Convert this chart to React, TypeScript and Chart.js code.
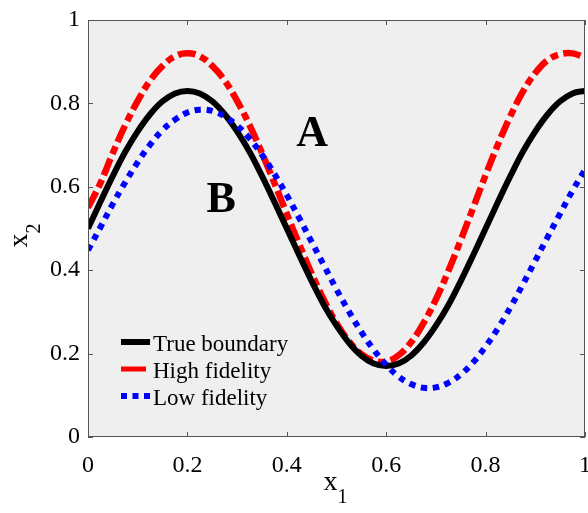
import React, { useEffect, useRef } from "react";
import { Chart, registerables } from "chart.js";

Chart.register(...registerables);

// ---- data ----
const xValues = [
  0, 0.025, 0.05, 0.075, 0.1, 0.125, 0.15, 0.175, 0.2, 0.225, 0.25, 0.275, 0.3, 0.325, 0.35, 0.375,
  0.4, 0.425, 0.45, 0.475, 0.5, 0.525, 0.55, 0.575, 0.6, 0.625, 0.65, 0.675, 0.7, 0.725, 0.75, 0.775,
  0.8, 0.825, 0.85, 0.875, 0.9, 0.925, 0.95, 0.975, 1,
];
const trueBoundary = [
  0.5, 0.564, 0.626, 0.684, 0.733, 0.774, 0.805, 0.824, 0.83, 0.824, 0.805, 0.774, 0.733, 0.684, 0.626, 0.564,
  0.5, 0.436, 0.374, 0.316, 0.267, 0.226, 0.195, 0.176, 0.17, 0.176, 0.195, 0.226, 0.267, 0.316, 0.374, 0.436,
  0.5, 0.564, 0.626, 0.684, 0.733, 0.774, 0.805, 0.824, 0.83,
];
const highFidelity = [
  0.55, 0.609, 0.681, 0.748, 0.806, 0.855, 0.89, 0.913, 0.92, 0.913, 0.89, 0.855, 0.806, 0.748, 0.681, 0.609,
  0.535, 0.462, 0.392, 0.328, 0.273, 0.23, 0.199, 0.183, 0.181, 0.196, 0.227, 0.273, 0.33, 0.398, 0.472, 0.55,
  0.628, 0.702, 0.77, 0.828, 0.873, 0.904, 0.918, 0.92, 0.91,
];
const lowFidelity = [
  0.448, 0.503, 0.559, 0.611, 0.659, 0.701, 0.736, 0.761, 0.778, 0.785, 0.782, 0.769, 0.747, 0.716, 0.677, 0.631,
  0.58, 0.525, 0.468, 0.411, 0.354, 0.301, 0.252, 0.209, 0.173, 0.145, 0.127, 0.118, 0.119, 0.13, 0.15, 0.179,
  0.217, 0.261, 0.311, 0.366, 0.423, 0.48, 0.536, 0.591, 0.641,
];
const seriesLabels = ["True boundary", "High fidelity", "Low fidelity"];
const seriesColors = ["#000000", "#ff0000", "#0000ff"];
const xTicks = [0, 0.2, 0.4, 0.6, 0.8, 1];
const yTicks = [0, 0.2, 0.4, 0.6, 0.8, 1];
const regionText = ["A", "B"];
const regionX = [0.451, 0.268];
const regionY = [0.73, 0.572];

const SERIF = "'Liberation Serif', 'Times New Roman', serif";

const decorPlugin = {
  id: "decor",
  beforeDraw(chart: any) {
    const { ctx, chartArea: a } = chart;
    ctx.save();
    ctx.fillStyle = "#efefef";
    ctx.fillRect(a.left, a.top, a.right - a.left, a.bottom - a.top);
    ctx.restore();
  },
  afterDraw(chart: any) {
    const { ctx, chartArea: a, scales } = chart;
    const xs = scales.x;
    const ys = scales.y;
    ctx.save();
    // box
    ctx.strokeStyle = "#555555";
    ctx.lineWidth = 1;
    ctx.setLineDash([]);
    ctx.strokeRect(a.left + 0.5, a.top + 0.5, a.right - a.left - 1, a.bottom - a.top - 1);
    // inner ticks
    const tl = 5;
    ctx.beginPath();
    xTicks.forEach((v) => {
      const px = Math.round(xs.getPixelForValue(v)) + 0.5;
      ctx.moveTo(px, a.bottom);
      ctx.lineTo(px, a.bottom - tl);
      ctx.moveTo(px, a.top);
      ctx.lineTo(px, a.top + tl);
    });
    yTicks.forEach((v) => {
      const py = Math.round(ys.getPixelForValue(v)) + 0.5;
      ctx.moveTo(a.left, py);
      ctx.lineTo(a.left + tl, py);
      ctx.moveTo(a.right, py);
      ctx.lineTo(a.right - tl, py);
    });
    ctx.stroke();

    // region labels
    ctx.fillStyle = "#000";
    ctx.font = `bold 44px ${SERIF}`;
    ctx.textAlign = "center";
    ctx.textBaseline = "middle";
    regionText.forEach((t, i) => {
      ctx.fillText(t, xs.getPixelForValue(regionX[i]), ys.getPixelForValue(regionY[i]) + 2);
    });

    // legend
    const lx0 = a.left + 33;
    const rows = [a.bottom - 95, a.bottom - 68, a.bottom - 41];
    ctx.lineCap = "butt";
    ctx.strokeStyle = seriesColors[0];
    ctx.lineWidth = 6;
    ctx.setLineDash([]);
    ctx.beginPath();
    ctx.moveTo(lx0, rows[0]);
    ctx.lineTo(lx0 + 29, rows[0]);
    ctx.stroke();
    ctx.strokeStyle = seriesColors[1];
    ctx.lineWidth = 5;
    ctx.beginPath();
    ctx.moveTo(lx0, rows[1]);
    ctx.lineTo(lx0 + 25, rows[1]);
    ctx.stroke();
    ctx.strokeStyle = seriesColors[2];
    ctx.lineWidth = 6;
    ctx.setLineDash([6, 5.5]);
    ctx.beginPath();
    ctx.moveTo(lx0, rows[2]);
    ctx.lineTo(lx0 + 29, rows[2]);
    ctx.stroke();
    ctx.setLineDash([]);
    ctx.fillStyle = "#000";
    ctx.font = `23px ${SERIF}`;
    ctx.textAlign = "left";
    ctx.textBaseline = "alphabetic";
    seriesLabels.forEach((t, i) => {
      ctx.fillText(t, lx0 + 32, rows[i] + 9);
    });

    // axis titles
    const cx = (a.left + a.right) / 2;
    ctx.font = `28px ${SERIF}`;
    ctx.textAlign = "left";
    ctx.fillText("x", cx - 13, 490);
    ctx.font = `20px ${SERIF}`;
    ctx.fillText("1", cx + 1, 503);

    const cy = (a.top + a.bottom) / 2;
    ctx.translate(27, cy + 19);
    ctx.rotate(-Math.PI / 2);
    ctx.font = `28px ${SERIF}`;
    ctx.fillText("x", 0, 0);
    ctx.font = `20px ${SERIF}`;
    ctx.fillText("2", 14, 13);
    ctx.restore();
  },
};

export default function App() {
  const ref = useRef<HTMLCanvasElement | null>(null);
  useEffect(() => {
    if (!ref.current) return;
    const mk = (data: number[]) => xValues.map((x, i) => ({ x, y: data[i] }));
    const chart = new Chart(ref.current, {
      type: "line",
      data: {
        datasets: [
          {
            label: seriesLabels[2],
            data: mk(lowFidelity),
            borderColor: seriesColors[2],
            borderWidth: 6,
            borderDash: [6, 6],
            pointRadius: 0,
            tension: 0.4,
            fill: false,
            clip: 0,
          },
          {
            label: seriesLabels[0],
            data: mk(trueBoundary),
            borderColor: seriesColors[0],
            borderWidth: 6,
            pointRadius: 0,
            tension: 0.4,
            fill: false,
            clip: 0,
          },
          {
            label: seriesLabels[1],
            data: mk(highFidelity),
            borderColor: seriesColors[1],
            borderWidth: 6.5,
            borderDash: [18, 5, 8, 5],
            pointRadius: 0,
            tension: 0.4,
            fill: false,
            clip: 0,
          },
        ],
      },
      options: {
        animation: false,
        responsive: false,
        maintainAspectRatio: false,
        layout: { padding: { top: 20, right: 3, left: 0, bottom: 0 } },
        plugins: { legend: { display: false }, tooltip: { enabled: false } },
        scales: {
          x: {
            type: "linear",
            min: 0,
            max: 1,
            grid: { display: false, drawTicks: false },
            border: { display: false },
            afterBuildTicks: (s: any) => {
              s.ticks = xTicks.map((v) => ({ value: v }));
            },
            afterFit: (s: any) => {
              s.height = 76;
              s.paddingLeft = 0;
              s.paddingRight = 0;
            },
            ticks: {
              color: "#000",
              padding: 14,
              maxRotation: 0,
              font: { family: SERIF, size: 24 },
              callback: (v: any) => String(v),
            },
          },
          y: {
            type: "linear",
            min: 0,
            max: 1,
            grid: { display: false, drawTicks: false },
            border: { display: false },
            afterBuildTicks: (s: any) => {
              s.ticks = yTicks.map((v) => ({ value: v }));
            },
            afterFit: (s: any) => {
              s.width = 88;
              s.paddingTop = 0;
              s.paddingBottom = 0;
            },
            ticks: {
              color: "#000",
              padding: 8,
              font: { family: SERIF, size: 24 },
              callback: (v: any) => String(v),
            },
          },
        },
      },
      plugins: [decorPlugin],
    });
    return () => chart.destroy();
  }, []);
  return (
    <div style={{ position: "fixed", left: 0, top: 0, width: 588, height: 513, background: "#fff" }}>
      <canvas ref={ref} width={588} height={513} style={{ display: "block", width: 588, height: 513 }} />
    </div>
  );
}
